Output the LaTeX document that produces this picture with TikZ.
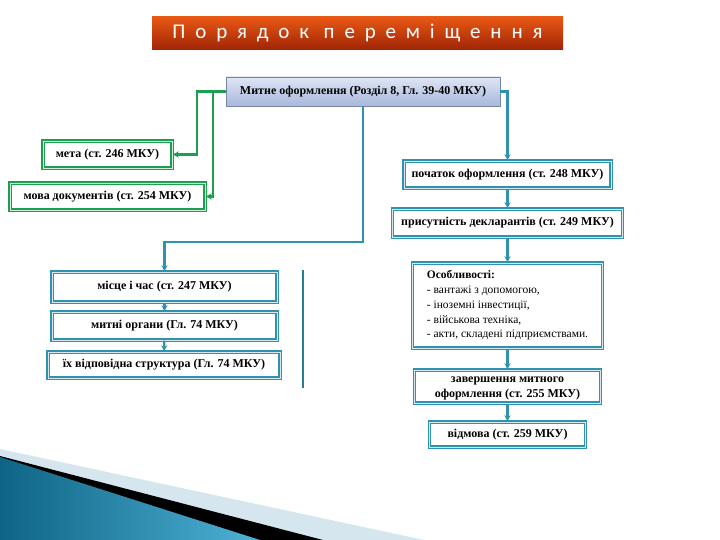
\documentclass[tikz,border=0pt]{standalone}
\usepackage{fontspec}
\setmainfont{Liberation Serif}
\newfontfamily\titlefont{Carlito}
\usetikzlibrary{arrows.meta}
\definecolor{tealc}{RGB}{48,146,174}
\definecolor{greenc}{RGB}{30,158,80}
\definecolor{bandc}{RGB}{214,230,238}
\begin{document}
\begin{tikzpicture}[x=1pt,y=-1pt,
  tbox/.style={draw=tealc, line width=1.5pt, double=tealc!20, double distance=0.8pt,
    inner sep=0pt, font=\bfseries\fontsize{12}{16}\selectfont, align=center},
  gbox/.style={tbox, draw=greenc, double=greenc!20},
  tline/.style={draw=tealc, line width=2.2pt, -{Stealth[length=6pt,width=6pt]}},
  gline/.style={draw=greenc, line width=2.4pt, -{Stealth[length=6pt,width=6pt]}},
  plain/.style={draw=tealc!85!black, line width=2.2pt}
]
\useasboundingbox (0,0) rectangle (720,540);
% bottom decoration
\fill[bandc] (0,449) -- (424,540) -- (0,540) -- cycle;
\fill[black] (0,456) -- (323,540) -- (0,540) -- cycle;
\shade[left color={rgb,255:red,14;green,100;blue,132}, right color={rgb,255:red,78;green,178;blue,214}] (0,457) -- (260,540) -- (0,540) -- cycle;
% title
\node[minimum width=411, minimum height=33, inner sep=0pt,
  top color={rgb,255:red,232;green,88;blue,20}, bottom color={rgb,255:red,160;green,36;blue,6},
  text=white, font=\titlefont\fontsize{21}{21}\selectfont\addfontfeatures{LetterSpace=47}]
  (title) at (357.5,33.5) {Порядок переміщення};
% top box
\node[draw={rgb,255:red,120;green,135;blue,165}, line width=0.6pt, minimum width=274, minimum height=29,
  inner sep=0pt, top color={rgb,255:red,222;green,229;blue,244}, bottom color={rgb,255:red,168;green,184;blue,220},
  font=\bfseries\fontsize{12}{14}\selectfont] (top) at (363,91.5) {Митне оформлення (Розділ 8, Гл. 39-40 МКУ)};
% green boxes
\node[gbox, minimum width=129, minimum height=27] (meta) at (107.5,154.5) {мета (ст. 246 МКУ)};
\node[gbox, minimum width=195, minimum height=27] (mova) at (107.5,196.5) {мова документів (ст. 254 МКУ)};
% right column
\node[tbox, minimum width=207, minimum height=27] (poch) at (507.5,174.5) {початок оформлення (ст. 248 МКУ)};
\node[tbox, minimum width=230, minimum height=28] (prys) at (507.5,223) {присутність декларантів (ст. 249 МКУ)};
\node[tbox, minimum width=190, minimum height=85, align=left, inner xsep=5pt,
  font=\fontsize{11.5}{14.75}\selectfont] (osob) at (507.5,305.5)
  {\textbf{Особливості:}\\- вантажі з допомогою,\\- іноземні інвестиції,\\- військова техніка,\\- акти, складені підприємствами.};
\node[tbox, minimum width=186, minimum height=33, font=\bfseries\fontsize{12}{15}\selectfont] (zav) at (507.5,386.5)
  {\raisebox{-2pt}{\begin{tabular}{@{}c@{}}завершення митного\\оформлення (ст. 255 МКУ)\end{tabular}}};
\node[tbox, minimum width=156, minimum height=25] (vidm) at (507.5,434.5) {відмова (ст. 259 МКУ)};
% left column
\node[tbox, minimum width=225, minimum height=30] (misce) at (164.5,287) {місце і час (ст. 247 МКУ)};
\node[tbox, minimum width=225, minimum height=28] (mytni) at (164.5,326) {митні органи (Гл. 74 МКУ)};
\node[tbox, minimum width=232, minimum height=26] (yikh) at (164,365) {їх відповідна структура (Гл. 74 МКУ)};
% connectors
\coordinate (g1) at (197,91.5);
\coordinate (g2) at (213,91.5);
\draw[gline] (top.west) -- (g1) |- (meta.east);
\draw[gline] (g2) |- (mova.east);
\draw[tline] (top.east) -| (poch.north);
\draw[tline] (poch) -- (prys);
\draw[tline] (prys) -- (osob);
\draw[tline] (osob) -- (zav);
\draw[tline] (zav) -- (vidm);
\coordinate (j) at (363,242);
\draw[tline] (top.south) -- (j) -| (misce.north);
\draw[tline] (misce) -- (mytni);
\draw[tline] (mytni) -- (yikh);
\coordinate (s1) at (303,270);
\coordinate (s2) at (303,388);
\draw[plain] (s1) -- (s2);
\end{tikzpicture}
\end{document}
